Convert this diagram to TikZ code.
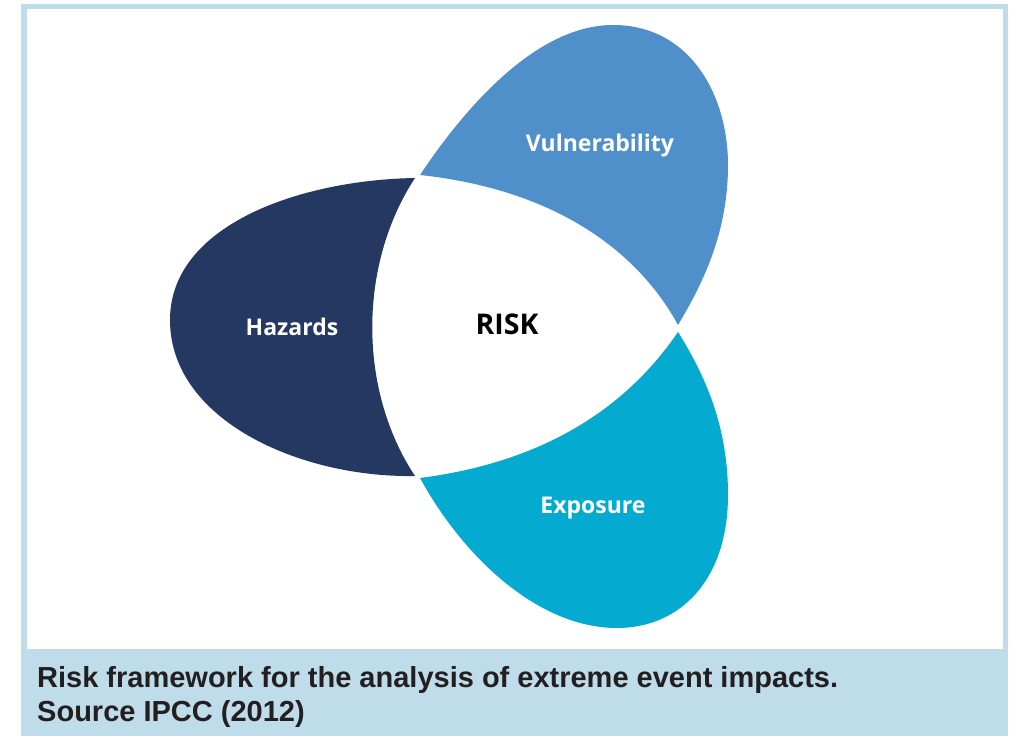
\documentclass[tikz,border=0pt]{standalone}
\usepackage{fontspec}
\setmainfont{Liberation Sans}
\newfontfamily\labfont{Open Sans}
\definecolor{frameblue}{HTML}{BEDCEA}
\definecolor{hazcol}{HTML}{243862}
\definecolor{vulcol}{HTML}{4F8FCA}
\definecolor{expcol}{HTML}{04AACF}
\definecolor{captxt}{HTML}{231F20}
\tikzset{
  petallabel/.style={text=white, font=\labfont\bfseries\fontsize{23}{28}\selectfont, inner sep=0pt},
  risklabel/.style={text=black, font=\labfont\bfseries\fontsize{28.5}{34}\selectfont, inner sep=0pt},
  captionline/.style={text=captxt, font=\bfseries\fontsize{29}{34}\selectfont, inner sep=0pt, anchor=base west}
}
\begin{document}
\begin{tikzpicture}[x=1pt,y=-1pt]
\useasboundingbox (0,0) rectangle (1013,736);
\fill[white] (0,0) rectangle (1013,736);
% frame
\fill[frameblue] (21,4) rectangle (1008,736);
\fill[white] (27,9) rectangle (1003,649);
% Hazards petal
\fill[hazcol] (415,178) .. controls (300,180) and (170,225) .. (170,320)
  .. controls (170,420) and (300,478) .. (415,476)
  .. controls (358,390) and (358,265) .. (415,178) -- cycle;
% Vulnerability petal
\fill[vulcol] (420,175) .. controls (470,100) and (540,25) .. (613,25)
  .. controls (690,25) and (728,95) .. (728,165)
  .. controls (728,230) and (705,280) .. (678,325)
  .. controls (640,255) and (560,190) .. (420,175) -- cycle;
% Exposure petal
\fill[expcol] (678,332) .. controls (708,380) and (728,430) .. (728,495)
  .. controls (728,580) and (680,628) .. (617,628)
  .. controls (540,628) and (465,560) .. (420,478)
  .. controls (560,460) and (635,395) .. (678,332) -- cycle;
% labels
\node[petallabel] (haz) at (292,327) {Hazards};
\node[petallabel] (vul) at (600,146) {Vulnerability};
\node[petallabel] (exp) at (593,508) {Exposure};
\node[risklabel] (risk) at (507,324) {RISK};
% caption
\node[captionline] (cap1) at (37,687) {Risk framework for the analysis of extreme event impacts.};
\node[captionline] (cap2) at (37,721) {Source IPCC (2012)};
\end{tikzpicture}
\end{document}
